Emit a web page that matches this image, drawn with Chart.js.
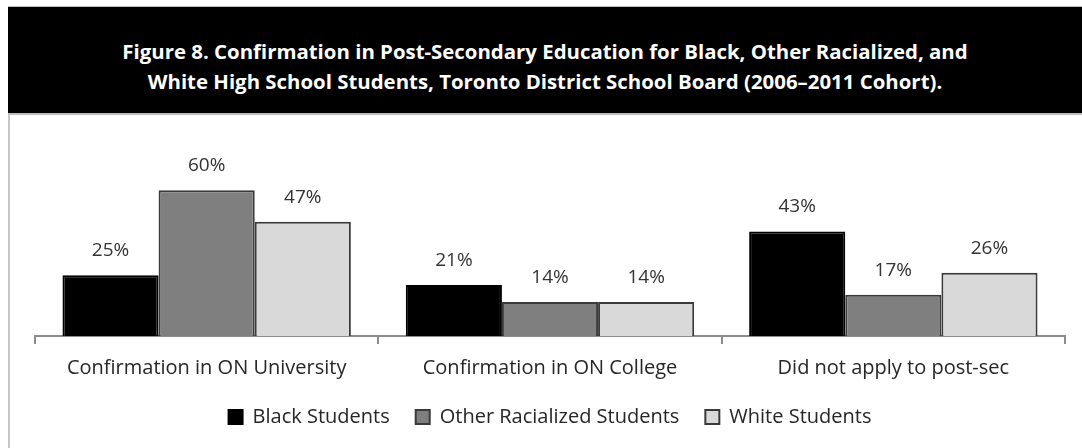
<!DOCTYPE html>
<html>
<head>
<meta charset="utf-8">
<script src="https://cdn.jsdelivr.net/npm/chart.js@4.4.0/dist/chart.umd.min.js"></script>
<style>
  html, body { margin: 0; padding: 0; background: #fff; }
  body { width: 1082px; height: 448px; position: relative; overflow: hidden; font-family: "Open Sans", sans-serif; }
  #frame { position: absolute; left: 8px; top: 6px; width: 1090px; height: 460px; border-left: 2px solid #c6c6c6; border-top: 1px solid #bdbdbd; }
  #header { position: absolute; left: 8px; top: 7px; width: 1090px; height: 108px; background: #000; border-bottom: 2px solid #bdbdbd;
            color: #fff; font-weight: bold; font-size: 20.4px; line-height: 30px; text-align: center; box-sizing: border-box; padding-top: 29px; }
  #header div { width: 1074px; }
  #wrap { position: absolute; left: 0; top: 117px; width: 1082px; height: 331px; }
</style>
</head>
<body>
<div id="frame"></div>
<div id="header"><div>Figure 8. Confirmation in Post-Secondary Education for Black, Other Racialized, and<br>White High School Students, Toronto District School Board (2006–2011 Cohort).</div></div>
<div id="wrap"><canvas id="chart"></canvas></div>
<script>
const categories = ['Confirmation in ON University', 'Confirmation in ON College', 'Did not apply to post-sec'];
const blackStudents = [25, 21, 43];
const otherRacialized = [60, 14, 17];
const whiteStudents = [47, 14, 26];

// подписи значений над столбцами
const valueLabels = {
    id: 'valueLabels',
    afterDatasetsDraw(chart) {
        const ctx = chart.ctx;
        ctx.save();
        ctx.font = '19px "Open Sans"';
        ctx.fillStyle = '#333';
        ctx.textAlign = 'center';
        ctx.textBaseline = 'bottom';
        chart.data.datasets.forEach((ds, i) => {
            chart.getDatasetMeta(i).data.forEach((bar, j) => {
                ctx.fillText(ds.data[j] + '%', bar.x, bar.y - 15);
            });
        });
        ctx.restore();
    }
};

const ctx = document.getElementById('chart').getContext('2d');
new Chart(ctx, {
    type: 'bar',
    data: {
        labels: categories,
        datasets: [
            { label: 'Black Students', data: blackStudents, backgroundColor: '#000', borderColor: '#000', borderWidth: 2 },
            { label: 'Other Racialized Students', data: otherRacialized, backgroundColor: '#7f7f7f', borderColor: '#3a3a3a', borderWidth: 2 },
            { label: 'White Students', data: whiteStudents, backgroundColor: '#d9d9d9', borderColor: '#3a3a3a', borderWidth: 2 }
        ]
    },
    options: {
        responsive: true,
        maintainAspectRatio: false,
        animation: false,
        layout: { padding: { left: 35, right: 17, top: 49, bottom: 11 } },
        datasets: { bar: { categoryPercentage: 0.84, barPercentage: 1 } },
        scales: {
            x: {
                grid: { drawOnChartArea: false, tickLength: 8, color: '#8c8c8c', lineWidth: 2 },
                border: { color: '#8c8c8c', width: 2 },
                ticks: { color: '#262626', font: { family: 'Open Sans', size: 20 }, padding: 12 },
                // без нижнего отступа под подписями, легенда ближе к оси
                afterFit: (scale) => { scale.height = 45; }
            },
            y: { display: false, min: 0, max: 70 }
        },
        plugins: {
            legend: {
                position: 'bottom',
                labels: { color: '#262626', font: { family: 'Open Sans', size: 20 }, boxWidth: 14, boxHeight: 14, padding: 26 }
            },
            tooltip: { enabled: false }
        }
    },
    plugins: [valueLabels]
});
</script>
</body>
</html>
